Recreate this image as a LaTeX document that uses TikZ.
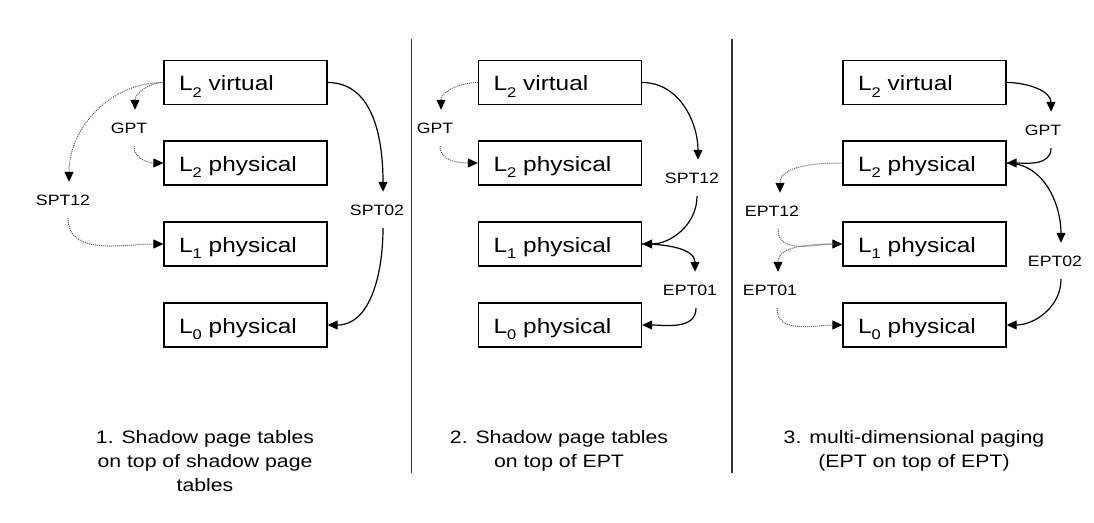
\documentclass[tikz,border=0pt]{standalone}
\usepackage{fontspec}
\setmainfont{Liberation Sans}[FakeStretch=1.18]
\usetikzlibrary{arrows.meta}
\newcommand{\lsub}[1]{\raisebox{-6.5pt}{\fontsize{14}{14}\selectfont #1}}
\begin{document}
\begin{tikzpicture}[x=1pt,y=1pt,
  box/.style={draw, line width=1.3pt, minimum width=163pt, minimum height=44pt,
    text width=133pt, inner xsep=15pt, inner ysep=0pt, align=left,
    text height=17pt, text depth=0pt,
    font=\fontsize{20.7}{24}\selectfont},
  lbl/.style={inner xsep=1pt, inner ysep=12.5pt, text height=11pt, text depth=0pt,
    font=\fontsize{15}{18}\selectfont},
  captxt/.style={anchor=north, align=center, inner sep=0pt,
    font=\fontsize{18}{24}\selectfont},
  solidarr/.style={line width=1.2pt, -{Triangle[length=10pt,width=9pt]}},
  dotarr/.style={line width=1pt, black!65, densely dotted,
    -{Triangle[length=10pt,width=9pt,color=black]}},
  sepline/.style={line width=1.3pt, black!80}
]
\useasboundingbox (0,0) rectangle (1094,522);
\fill[white] (0,0) rectangle (1094,522);

% separators
\coordinate (s1t) at (411.5,483);
\coordinate (s1b) at (411.5,49);
\coordinate (s2t) at (732,483);
\coordinate (s2b) at (732,49);
\draw[sepline] (s1t) -- (s1b);
\draw[sepline] (s2t) -- (s2b);

% ---------- panel 1 ----------
\node[box] (av) at (245.5,439.5) {L\lsub{2} virtual};
\node[box] (a2) at (245.5,359) {L\lsub{2} physical};
\node[box] (a1) at (245.5,278) {L\lsub{1} physical};
\node[box] (a0) at (245.5,197) {L\lsub{0} physical};
\node[lbl] (agpt) at (129,394) {GPT};
\node[lbl] (aspt12) at (63,322) {SPT12};
\node[lbl] (aspt02) at (377,312) {SPT02};
\draw[dotarr] (av.west) to[out=180,in=90] ([xshift=6pt]agpt.north);
\draw[dotarr] ([xshift=5pt]agpt.south) to[out=-90,in=180] (a2.west);
\draw[dotarr] (av.west) to[out=180,in=90] ([xshift=6pt]aspt12.north);
\draw[dotarr] ([xshift=5pt]aspt12.south) to[out=-90,in=180] (a1.west);
\draw[solidarr] (av.east) to[out=0,in=90] ([xshift=6pt]aspt02.north);
\draw[solidarr] ([xshift=6pt]aspt02.south) to[out=-90,in=0] (a0.east);
\node[captxt] (acap) at (205,92) {1. Shadow page tables\\on top of shadow page\\tables};

% ---------- panel 2 ----------
\node[box] (bv) at (560,439.5) {L\lsub{2} virtual};
\node[box] (b2) at (560,359) {L\lsub{2} physical};
\node[box] (b1) at (560,278) {L\lsub{1} physical};
\node[box] (b0) at (560,197) {L\lsub{0} physical};
\node[lbl] (bgpt) at (435,394) {GPT};
\node[lbl] (bspt12) at (692,344) {SPT12};
\node[lbl] (bept01) at (690,232) {EPT01};
\draw[dotarr] (bv.west) to[out=180,in=90] ([xshift=6pt]bgpt.north);
\draw[dotarr] ([xshift=5pt]bgpt.south) to[out=-90,in=180] (b2.west);
\draw[solidarr] (bv.east) to[out=0,in=90] ([xshift=6pt]bspt12.north);
\draw[solidarr] ([xshift=5pt]bspt12.south) to[out=-90,in=0] (b1.east);
\draw[solidarr] (b1.east) to[out=0,in=90] ([xshift=5pt]bept01.north);
\draw[solidarr] ([xshift=6pt]bept01.south) to[out=-90,in=0] (b0.east);
\node[captxt] (bcap) at (559,92) {2. Shadow page tables\\on top of EPT};

% ---------- panel 3 ----------
\node[box] (cv) at (924.5,439.5) {L\lsub{2} virtual};
\node[box] (c2) at (924.5,359) {L\lsub{2} physical};
\node[box] (c1) at (924.5,278) {L\lsub{1} physical};
\node[box] (c0) at (924.5,197) {L\lsub{0} physical};
\node[lbl] (cgpt) at (1043,392) {GPT};
\node[lbl] (cept12) at (772,311) {EPT12};
\node[lbl] (cept01) at (770,232) {EPT01};
\node[lbl] (cept02) at (1055,261) {EPT02};
\draw[solidarr] (cv.east) to[out=0,in=90] ([xshift=8pt]cgpt.north);
\draw[solidarr] ([xshift=8pt]cgpt.south) to[out=-90,in=0] (c2.east);
\draw[solidarr] (c2.east) to[out=0,in=90] ([xshift=6pt]cept02.north);
\draw[solidarr] ([xshift=6pt]cept02.south) to[out=-90,in=0] (c0.east);
\draw[dotarr] (c2.west) to[out=180,in=90] ([xshift=8pt]cept12.north);
\draw[dotarr] ([xshift=6pt]cept12.south) to[out=-90,in=180] (c1.west);
\draw[dotarr] (c1.west) to[out=180,in=90] ([xshift=8pt]cept01.north);
\draw[dotarr] ([xshift=7pt]cept01.south) to[out=-90,in=180] (c0.west);
\node[captxt] (ccap) at (914,92) {3. multi-dimensional paging\\(EPT on top of EPT)};
\end{tikzpicture}
\end{document}
